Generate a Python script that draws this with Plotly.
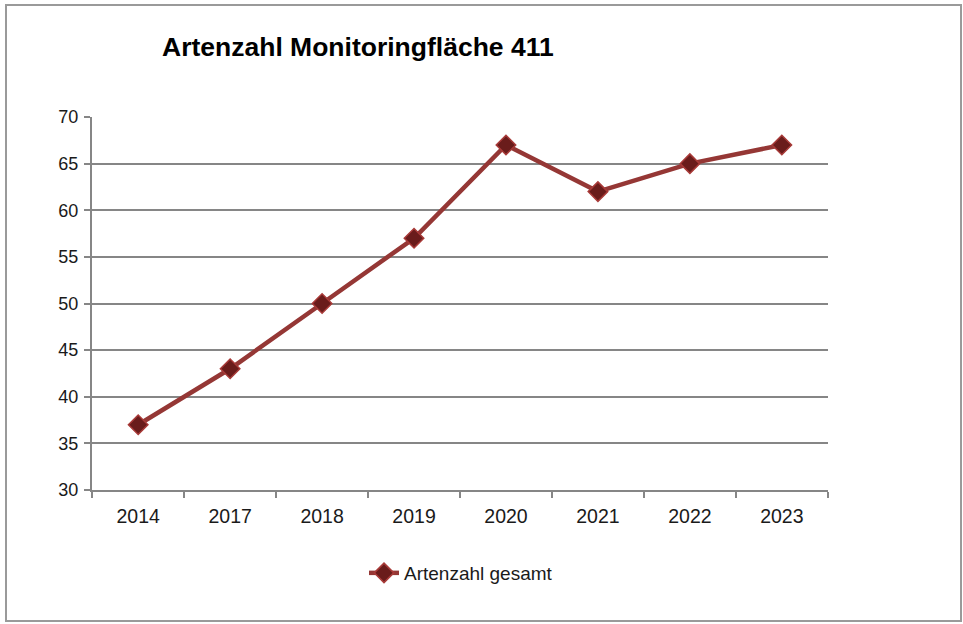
import plotly.graph_objects as go

years = ["2014", "2017", "2018", "2019", "2020", "2021", "2022", "2023"]
artenzahl = [37, 43, 50, 57, 67, 62, 65, 67]
y_ticks = [30, 35, 40, 45, 50, 55, 60, 65, 70]

FONT = "Arial, Liberation Sans, sans-serif"
GRID = "#868686"
TXT = "#1a1a1a"

fig = go.Figure()
fig.add_trace(go.Scatter(
    x=years, y=artenzahl, mode="lines+markers", name="Artenzahl gesamt",
    line=dict(color="#953735", width=4.5),
    marker=dict(symbol="diamond", size=15, color="#6a1c1b",
                line=dict(color="#a83a38", width=1.5)),
))

fig.update_layout(
    width=963, height=624,
    margin=dict(l=92, r=135, t=117, b=134),
    paper_bgcolor="white", plot_bgcolor="white",
    font=dict(family=FONT, size=18, color=TXT),
    title=dict(text="<b>Artenzahl Monitoringfläche 411</b>",
               font=dict(family=FONT, size=26.5, color="black"),
               xref="container", x=162/963, xanchor="left",
               yref="container", y=1-47/624, yanchor="middle"),
    showlegend=True,
    legend=dict(orientation="h", xref="paper", yref="paper",
                x=(364-92)/736, xanchor="left", y=-(573-490)/373, yanchor="middle",
                font=dict(family=FONT, size=19, color=TXT),
                itemwidth=30),
    xaxis=dict(type="category", showgrid=False, showline=True, linecolor=GRID, linewidth=2,
               ticks="outside", tickson="boundaries", ticklen=6, tickcolor=GRID, tickwidth=2,
               ticklabelstandoff=8,
               tickfont=dict(family=FONT, size=19.5, color=TXT), zeroline=False),
    yaxis=dict(range=[30, 70], tickvals=y_ticks, showgrid=True, gridcolor=GRID, gridwidth=2,
               showline=True, linecolor=GRID, linewidth=2, ticks="outside", ticklen=6,
               tickcolor=GRID, tickwidth=2, zeroline=False, ticklabelstandoff=2,
               tickfont=dict(family=FONT, size=18, color=TXT)),
    shapes=[dict(type="rect", xref="paper", yref="paper",
                 x0=-(92-6)/736, x1=(961-92)/736, y0=-(621-490)/373, y1=1+(117-5)/373,
                 line=dict(color="#9a9a9a", width=2), layer="below")],
)

fig.write_html("out.html", config={"displayModeBar": False},
               post_script="document.body.style.margin='0';document.body.style.overflow='hidden';")
